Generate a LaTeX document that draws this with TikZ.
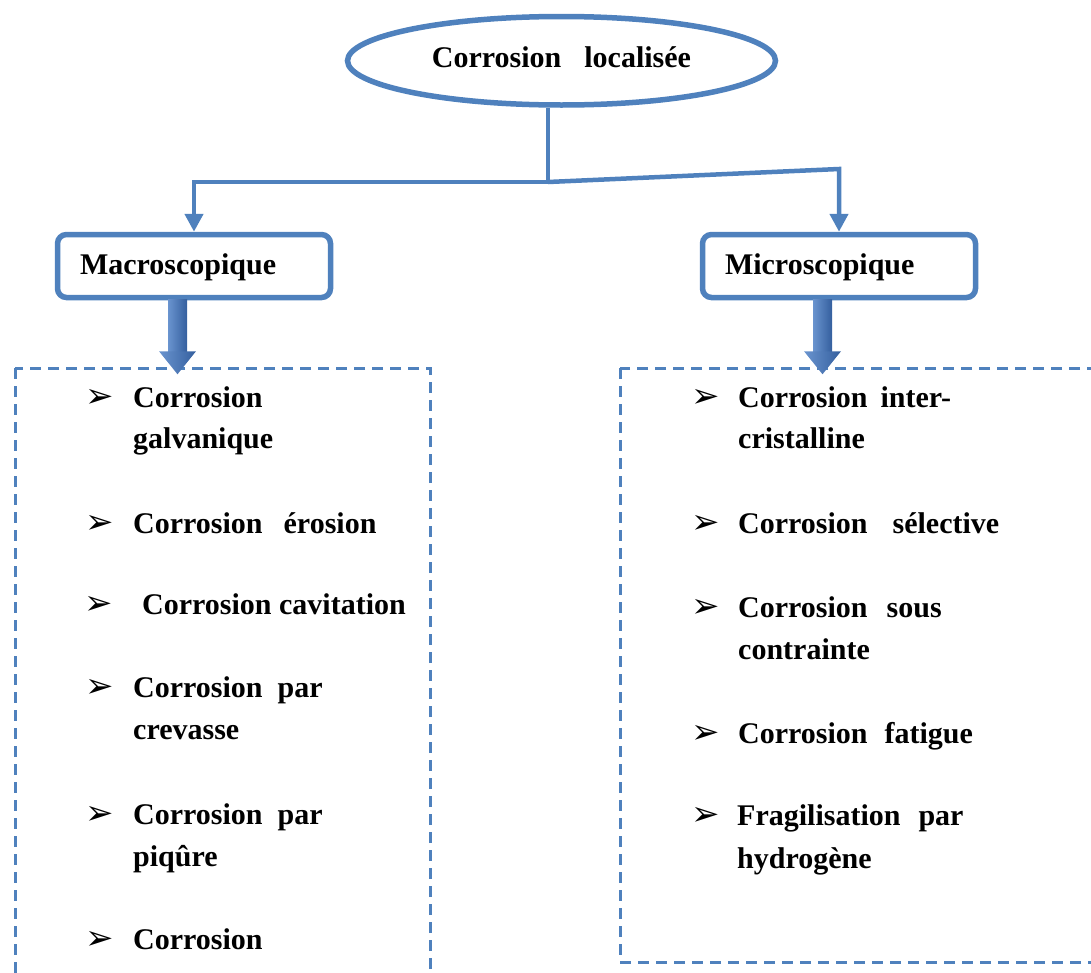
\documentclass[tikz,border=0pt]{standalone}
\usepackage{fontspec}
\setmainfont{Liberation Serif}
\newfontfamily\symfont{DejaVu Sans}
\usetikzlibrary{shapes.geometric,arrows.meta,calc}
\definecolor{ofblue}{HTML}{4F81BD}
\definecolor{arlight}{HTML}{A3BFE6}
\definecolor{armid}{HTML}{6A94CF}
\definecolor{ardark}{HTML}{345F9E}
\newcommand\wsp[1]{\hspace*{#1pt}}
\newcommand\fatarrow[1]{%
  \shade[left color=armid, middle color=arlight, right color=ardark]
    ($(#1.south)+(-26,-1)$) rectangle ($(#1.south)+(-7,52)$);
  \shade[left color=armid, right color=ardark]
    ($(#1.south)+(-35,51)$) -- ($(#1.south)+(2,51)$) -- ($(#1.south)+(-16.5,74)$) -- cycle;
}
\begin{document}
\begin{tikzpicture}[x=1pt,y=-1pt,
  every node/.style={font=\fontsize{30}{41}\selectfont\bfseries, text=black},
  ell/.style={ellipse, draw=ofblue, line width=5.5pt, fill=white,
    minimum width=428pt, minimum height=88.5pt, inner sep=0pt,
    text height=16.5pt, text depth=4pt},
  catbox/.style={draw=ofblue, line width=5.5pt, rounded corners=9pt, fill=white,
    minimum width=273pt, minimum height=63pt, text width=228pt,
    inner xsep=22.5pt, inner ysep=0pt, align=left,
    text height=21pt, text depth=4pt},
  conn/.style={draw=ofblue, line width=4.5pt,
    -{Triangle[width=18pt,length=18pt]}},
  dbox/.style={draw=ofblue, line width=3pt, dash pattern=on 11pt off 7pt},
  item/.style={anchor=base west, inner sep=0pt},
  bul/.style={anchor=base west, inner sep=0pt,
    font=\fontsize{34}{34}\selectfont\symfont}
]
\useasboundingbox (0,0) rectangle (1091,972);
\clip (0,0) rectangle (1091,972);

% title and categories
\node[ell] (ell) at (561.5,60.75) {Corrosion\wsp{23}localisée};
\node[catbox] (macro) at (194,266) {Macroscopique};
\node[catbox] (micro) at (839,266) {Microscopique};

% connectors
\coordinate (j) at (548,182);
\coordinate (rc) at (839,169);
\draw[draw=ofblue, line width=4.5pt] (ell.south -| j) -- (j);
\draw[conn] (j) -- (j -| macro.north) -- (macro.north);
\draw[conn] (j) -- (rc) -- (micro.north);

% dashed frames
\draw[dbox] (15,368) rectangle (430,1010);
\draw[dbox] (620,368) rectangle (1120,962);

% block arrows
\fatarrow{macro}
\fatarrow{micro}

% left list
\node[bul] (lb1) at (85,407) {➢};
\node[item] (l1a) at (133,407) {Corrosion};
\node[item] (l1b) at (133,448) {galvanique};
\node[bul] (lb2) at (85,533) {➢};
\node[item] (l2) at (133,533) {Corrosion\wsp{21}érosion};
\node[bul] (lb3) at (84,614) {➢};
\node[item] (l3) at (142,614) {Corrosion cavitation};
\node[bul] (lb4) at (85,697) {➢};
\node[item] (l4a) at (133,697) {Corrosion\wsp{15}par};
\node[item] (l4b) at (133,739) {crevasse};
\node[bul] (lb5) at (85,824) {➢};
\node[item] (l5a) at (133,824) {Corrosion\wsp{15}par};
\node[item] (l5b) at (133,866) {piqûre};
\node[bul] (lb6) at (85,949) {➢};
\node[item] (l6a) at (133,949) {Corrosion};

% right list
\node[bul] (rb1) at (691,407) {➢};
\node[item] (r1a) at (738,407) {Corrosion\wsp{13}inter-};
\node[item] (r1b) at (738,448) {cristalline};
\node[bul] (rb2) at (691,533) {➢};
\node[item] (r2) at (738,533) {Corrosion\wsp{25}sélective};
\node[bul] (rb3) at (691,617) {➢};
\node[item] (r3a) at (738,617) {Corrosion\wsp{19}sous};
\node[item] (r3b) at (738,659) {contrainte};
\node[bul] (rb4) at (691,743) {➢};
\node[item] (r4) at (738,743) {Corrosion\wsp{17}fatigue};
\node[bul] (rb5) at (691,825) {➢};
\node[item] (r5a) at (737,825) {Fragilisation\wsp{18}par};
\node[item] (r5b) at (737,868) {hydrogène};
\end{tikzpicture}
\end{document}
